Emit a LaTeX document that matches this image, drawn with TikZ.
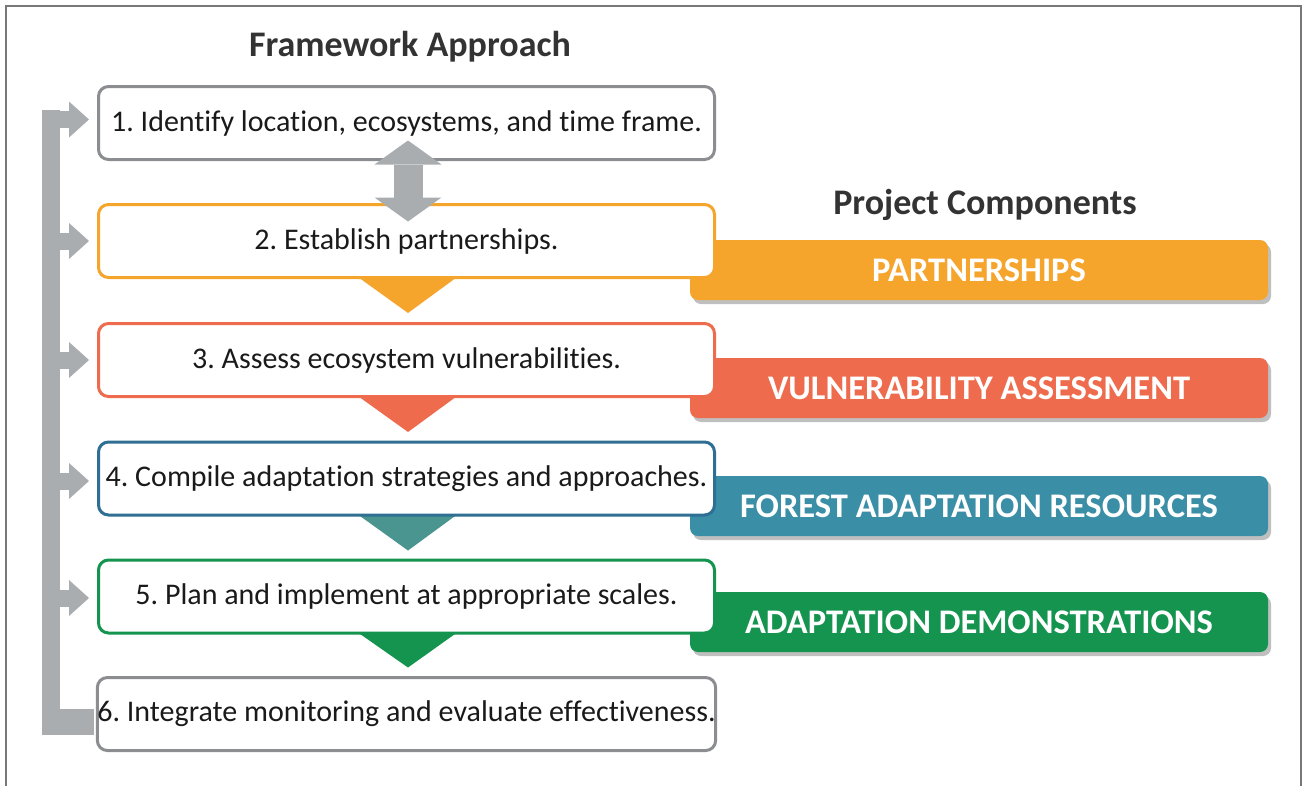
\documentclass[tikz,border=0pt]{standalone}
\usepackage{fontspec}
\setmainfont{Carlito}[Ligatures=NoCommon]
\usetikzlibrary{arrows.meta,shadows,calc}
\definecolor{framec}{RGB}{120,120,120}
\definecolor{boxgray}{RGB}{140,141,145}
\definecolor{arrowc}{RGB}{170,173,176}
\definecolor{orangec}{RGB}{246,165,44}
\definecolor{coralc}{RGB}{238,108,77}
\definecolor{blueb}{RGB}{47,111,148}
\definecolor{bluebar}{RGB}{58,142,165}
\definecolor{bluetri}{RGB}{75,149,144}
\definecolor{greenc}{RGB}{20,148,79}
\definecolor{textc}{RGB}{26,26,26}
\definecolor{titlec}{RGB}{51,51,51}
\frenchspacing
\begin{document}
\begin{tikzpicture}[x=1pt,y=-1pt,
  stepbox/.style={draw, line width=3pt, fill=white, rounded corners=10pt, minimum width=616pt, minimum height=73pt, inner sep=0pt, font=\fontsize{30}{36}\selectfont, text=textc},
  compbar/.style={fill=#1, rounded corners=8pt, minimum width=578pt, minimum height=60pt, inner sep=0pt, text=white, font=\bfseries\fontsize{34.5}{40}\selectfont, drop shadow={shadow xshift=3pt, shadow yshift=-4pt, opacity=0.5}},
  titletext/.style={text=titlec, font=\bfseries\fontsize{36}{42}\selectfont},
  fbarrow/.style={draw=arrowc, line width=17pt, -{Triangle[length=20pt 0 0, width=36pt 0 0, line width=0pt, fill=arrowc]}, shorten >=8pt},
  dblarrow/.style={draw=arrowc, line width=29pt, {Triangle[length=24pt 0 0, width=67pt 0 0, line width=0pt, fill=arrowc]}-{Triangle[length=24pt 0 0, width=67pt 0 0, line width=0pt, fill=arrowc]}}
]
\useasboundingbox (0,0) rectangle (1304,785);
\draw[framec, line width=1.5pt] (6,790) -- (6,6) -- (1301,6) -- (1301,790);

% titles
\node[titletext] (t1) at (410,47) {Framework Approach};
\node[titletext] (t2) at (985,205) {Project Components};

% component bars
\node[compbar=orangec] (c1) at (979,270) {PARTNERSHIPS};
\node[compbar=coralc] (c2) at (979,388) {VULNERABILITY ASSESSMENT};
\node[compbar=bluebar] (c3) at (979,506) {FOREST ADAPTATION RESOURCES};
\node[compbar=greenc] (c4) at (979,622) {ADAPTATION DEMONSTRATIONS};

% coordinates of step boxes
\coordinate (p1) at (406.5,123);
\coordinate (p2) at (406.5,241);
\coordinate (p3) at (406.5,360);
\coordinate (p4) at (406.5,478.5);
\coordinate (p5) at (406.5,596.5);
\coordinate (p6) at (406.5,714);

% down triangles (behind boxes)
\fill[orangec] ($(p2)+(-50,35)$) -- ($(p2)+(52,35)$) -- ($(p2)+(1.5,72)$) -- cycle;
\fill[coralc] ($(p3)+(-50,35)$) -- ($(p3)+(52,35)$) -- ($(p3)+(1.5,72)$) -- cycle;
\fill[bluetri] ($(p4)+(-50,35)$) -- ($(p4)+(52,35)$) -- ($(p4)+(1.5,72)$) -- cycle;
\fill[greenc] ($(p5)+(-50,35)$) -- ($(p5)+(52,35)$) -- ($(p5)+(1.5,71)$) -- cycle;

% step boxes
\node[stepbox, draw=boxgray] (b1) at (p1) {1. Identify location, ecosystems, and time frame.};
\node[stepbox, draw=orangec] (b2) at (p2) {2. Establish partnerships.};
\node[stepbox, draw=coralc] (b3) at (p3) {3. Assess ecosystem vulnerabilities.};
\node[stepbox, draw=blueb] (b4) at (p4) {4. Compile adaptation strategies and approaches.};
\node[stepbox, draw=greenc] (b5) at (p5) {5. Plan and implement at appropriate scales.};
\node[stepbox, draw=boxgray] (b6) at (p6) {6. Integrate monitoring and evaluate effectiveness.};

% double arrow between 1 and 2
\draw[dblarrow] ($(b1.south)+(1.5,-20.5)$) -- ($(b2.north)+(1.5,18.5)$);

% feedback loop
\coordinate (s1) at (42,119.5);
\coordinate (s2) at (42,241);
\coordinate (s3) at (42,360);
\coordinate (s4) at (42,481);
\coordinate (s5) at (42,598);
\fill[arrowc] (42,110) rectangle (60,735);
\fill[arrowc] (42,709) rectangle (94,735);
\draw[fbarrow] (s1) -- (b1.west |- s1);
\draw[fbarrow] (s2) -- (b2.west |- s2);
\draw[fbarrow] (s3) -- (b3.west |- s3);
\draw[fbarrow] (s4) -- (b4.west |- s4);
\draw[fbarrow] (s5) -- (b5.west |- s5);
\end{tikzpicture}
\end{document}
